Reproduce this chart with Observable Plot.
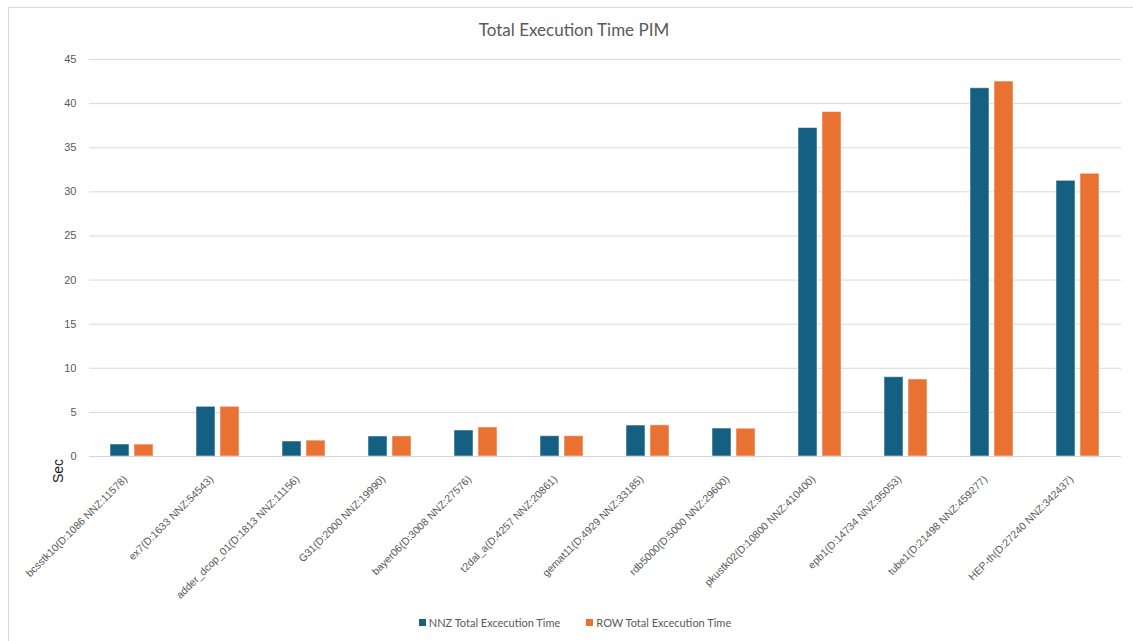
<!DOCTYPE html>
<html>
<head>
<meta charset="utf-8">
<script src="https://cdn.jsdelivr.net/npm/d3@7"></script>
<script src="https://cdn.jsdelivr.net/npm/@observablehq/plot@0.6"></script>
<style>
  html, body { margin: 0; padding: 0; background: #fff; }
  #wrap { position: relative; width: 1133px; height: 641px; overflow: hidden; }
  #frame { position: absolute; left: 8px; top: 7px; right: 0; bottom: -2px;
           border-left: 1px solid #d9d9d9; border-top: 1px solid #d9d9d9; }
  #title { position: absolute; left: 0; width: 1148px; top: 19px; text-align: center;
           font: 17px Lato, "Noto Sans", sans-serif; color: #595959; }
  #ylabel { position: absolute; left: 58px; top: 471px; transform: translate(-50%, -50%) rotate(-90deg);
            font: 14px "Liberation Sans", Arial, sans-serif; color: #1a1a1a; white-space: nowrap; }
  #legend { position: absolute; left: 0; width: 1150px; top: 616px; display: flex; justify-content: center; gap: 26px;
            font: 11px Lato, "Noto Sans", sans-serif; color: #595959; }
  #legend .item { display: flex; align-items: center; gap: 3px; }
  #legend .sw { width: 7px; height: 7px; display: inline-block; }
  #chart { position: absolute; left: 0; top: 0; }
</style>
</head>
<body>
<div id="wrap">
  <div id="frame"></div>
  <div id="chart"></div>
  <div id="title"></div>
  <div id="ylabel"></div>
  <div id="legend"></div>
</div>
<script>
// Sparse matrices (dimension and non-zero count in the name)
const categories = [
  "bcsstk10(D:1086 NNZ:11578)",
  "ex7(D:1633 NNZ:54543)",
  "adder_dcop_01(D:1813 NNZ:11156)",
  "G31(D:2000 NNZ:19990)",
  "bayer06(D:3008 NNZ:27576)",
  "t2dal_a(D:4257 NNZ:20861)",
  "gemat11(D:4929 NNZ:33185)",
  "rdb5000(D:5000 NNZ:29600)",
  "pkustk02(D:10800 NNZ:410400)",
  "epb1(D:14734 NNZ:95053)",
  "tube1(D:21498 NNZ:459277)",
  "HEP-th(D:27240 NNZ:342437)"
];

// Series names
const series = ["NNZ Total Excecution Time", "ROW Total Excecution Time"];

// Total execution time in seconds, per partitioning scheme
const nnzTime = [1.36, 5.63, 1.70, 2.27, 2.95, 2.30, 3.51, 3.17, 37.23, 8.99, 41.74, 31.25];
const rowTime = [1.35, 5.63, 1.80, 2.28, 3.29, 2.30, 3.53, 3.15, 39.05, 8.73, 42.50, 32.05];

// Value axis ticks
const yTicks = [0, 5, 10, 15, 20, 25, 30, 35, 40, 45];

const titleText = "Total Execution Time PIM";
const yLabel = "Sec";
const colors = ["#156082", "#E97132"];

const rows = categories.flatMap((matrix, i) => [
  {matrix, series: series[0], time: nnzTime[i]},
  {matrix, series: series[1], time: rowTime[i]}
]);

const chart = Plot.plot({
  width: 1133,
  height: 641,
  marginLeft: 84,
  marginRight: 8,
  marginTop: 59,
  marginBottom: 185,
  style: {background: "transparent", fontFamily: "'Liberation Sans', Arial, sans-serif"},
  fx: {domain: categories, padding: 0, label: null},
  x: {domain: series, paddingInner: 0.2, paddingOuter: 0.87, axis: null},
  y: {domain: [0, 45]},
  color: {domain: series, range: colors},
  marks: [
    Plot.gridY(yTicks, {stroke: "#d9d9d9", strokeOpacity: 1}),
    Plot.axisY(yTicks, {tickSize: 0, tickPadding: 13, fontSize: 11, color: "#595959", label: null}),
    // rotated matrix names, ending just right of each group's centre
    Plot.axisFx({anchor: "bottom", tickRotate: -45, tickSize: 0, tickPadding: 8, dx: -7, dy: 13,
                 fontSize: 10.5, color: "#595959", label: null}),
    Plot.barY(rows, {fx: "matrix", x: "series", y: "time", fill: "series",
                     stroke: "white", strokeOpacity: 0.5, strokeWidth: 1}),
    Plot.ruleY([0], {stroke: "#d4d4d4"})
  ]
});
document.getElementById("chart").append(chart);

document.getElementById("title").textContent = titleText;
document.getElementById("ylabel").textContent = yLabel;

const legend = d3.select("#legend");
series.forEach((s, i) => {
  const item = legend.append("div").attr("class", "item");
  item.append("span").attr("class", "sw").style("background", colors[i]);
  item.append("span").text(s);
});
</script>
</body>
</html>
